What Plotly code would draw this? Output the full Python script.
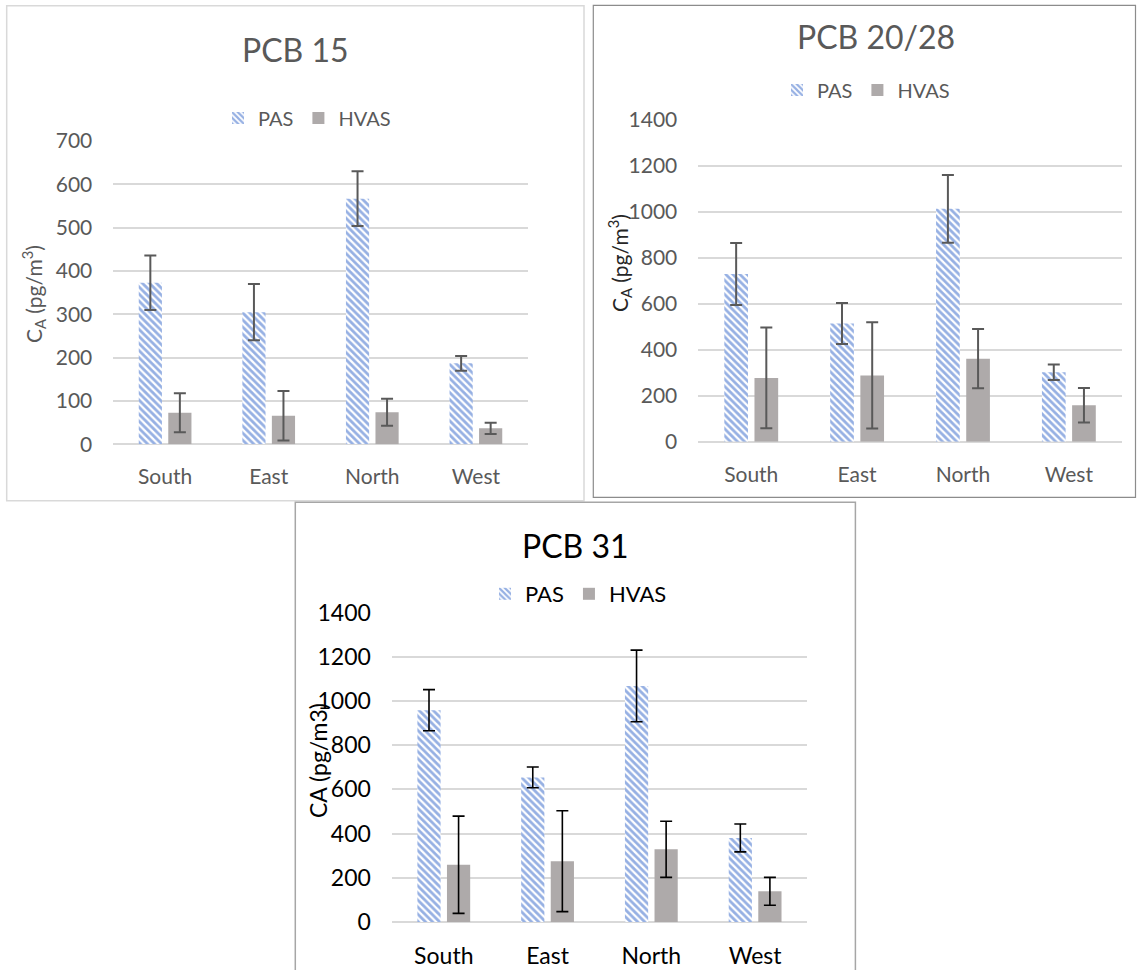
import plotly.graph_objects as go

W, H = 1137, 970

sites = ["South", "East", "North", "West"]

# PCB 15 (pg/m3)
pcb15_pas = [373, 305, 567, 187]
pcb15_pas_err = [63, 65, 63, 17]
pcb15_hvas = [73, 66, 74, 37]
pcb15_hvas_err = [45, 57, 31, 13]

# PCB 20/28 (pg/m3)
pcb2028_pas = [729, 514, 1012, 302]
pcb2028_pas_err = [135, 89, 147, 34]
pcb2028_hvas = [277, 288, 361, 158]
pcb2028_hvas_err = [219, 231, 129, 75]

# PCB 31 (pg/m3)
pcb31_pas = [958, 654, 1068, 380]
pcb31_pas_err = [93, 47, 162, 63]
pcb31_hvas = [259, 275, 329, 139]
pcb31_hvas_err = [220, 228, 127, 63]

ticks_15 = [0, 100, 200, 300, 400, 500, 600, 700]
ticks_1400 = [0, 200, 400, 600, 800, 1000, 1200, 1400]

FONT = "Lato"
BLUE = "#2E62C8"
GREY_BAR = "#AEAAAA"
GRID = "#D9D9D9"


def fx(px):
    return px / W


def fy(py):
    return 1 - py / H


panels = [
    dict(name="PCB 15", pas=pcb15_pas, pas_err=pcb15_pas_err,
         hvas=pcb15_hvas, hvas_err=pcb15_hvas_err, ticks=ticks_15,
         plot=(113.3, 527.7, 141.0, 444.3), text="#595959", err="#595959",
         title_col="#595959", err_w=2,
         fs=21, lfs=20, ytitle="C<sub>A</sub> (pg/m<sup>3</sup>)",
         ytitle_pos=(33, 294), ytitle_col="#595959",
         title_pos=(295.5, 49), legend_pos=(218, 118),
         border=(6.7, 584, 5.7, 500.7), border_col="#D9D9D9", border_w=1.5),
    dict(name="PCB 20/28", pas=pcb2028_pas, pas_err=pcb2028_pas_err,
         hvas=pcb2028_hvas, hvas_err=pcb2028_hvas_err, ticks=ticks_1400,
         plot=(698.3, 1121.8, 119.6, 441.7), text="#595959", err="#595959",
         title_col="#595959", err_w=2,
         fs=21, lfs=20, ytitle="C<sub>A</sub> (pg/m<sup>3</sup>)",
         ytitle_pos=(620, 263), ytitle_col="#262626",
         title_pos=(876, 37), legend_pos=(777, 90),
         border=(593.3, 1135.5, 5.3, 497.3), border_col="#8C8C8C", border_w=1.2),
    dict(name="PCB 31", pas=pcb31_pas, pas_err=pcb31_pas_err,
         hvas=pcb31_hvas, hvas_err=pcb31_hvas_err, ticks=ticks_1400,
         plot=(391.9, 807.0, 612.5, 922.0), text="#000000", err="#000000",
         title_col="#000000", err_w=1.6,
         fs=23, lfs=22, ytitle="CA (pg/m3)",
         ytitle_pos=(318, 761), ytitle_col="#000000",
         title_pos=(575, 545.7), legend_pos=(485, 594),
         border=(295.3, 855.4, 502.3, 990), border_col="#A6A6A6", border_w=1.5),
]

fig = go.Figure()
annotations = []
shapes = []
layout = {}

for i, p in enumerate(panels, start=1):
    sfx = "" if i == 1 else str(i)
    xa, ya = "x" + sfx, "y" + sfx
    leg = "legend" + sfx

    fig.add_trace(go.Bar(
        x=sites, y=p["pas"], name="PAS", xaxis=xa, yaxis=ya, legend=leg,
        marker=dict(color="white", line=dict(width=0),
                    pattern=dict(shape="\\", fgcolor=BLUE, bgcolor="white",
                                 size=5, solidity=0.55)),
        error_y=dict(type="data", array=p["pas_err"], visible=True,
                     color=p["err"], thickness=p["err_w"], width=6),
    ))
    fig.add_trace(go.Bar(
        x=sites, y=p["hvas"], name="HVAS", xaxis=xa, yaxis=ya, legend=leg,
        marker=dict(color=GREY_BAR, line=dict(width=0)),
        error_y=dict(type="data", array=p["hvas_err"], visible=True,
                     color=p["err"], thickness=p["err_w"], width=6),
    ))

    x0, x1, y0, y1 = p["plot"]
    layout["xaxis" + sfx] = dict(
        domain=[fx(x0), fx(x1)], anchor=ya, showgrid=False, showline=False,
        zeroline=False, ticks="", ticklabelstandoff=18,
        tickfont=dict(family=FONT, size=p["fs"], color=p["text"]),
    )
    layout["yaxis" + sfx] = dict(
        domain=[fy(y1), fy(y0)], anchor=xa, range=[0, p["ticks"][-1]],
        tickvals=p["ticks"], showgrid=True, gridcolor=GRID, gridwidth=1.5,
        zeroline=True, zerolinecolor=GRID, zerolinewidth=1.5, showline=False,
        ticks="", ticklabelstandoff=20,
        tickfont=dict(family=FONT, size=p["fs"], color=p["text"]),
    )
    lx, ly = p["legend_pos"]
    layout[leg] = dict(
        x=fx(lx), y=fy(ly), xanchor="left", yanchor="middle",
        orientation="h", bgcolor="rgba(0,0,0,0)", borderwidth=0,
        font=dict(family=FONT, size=p["lfs"], color=p["text"]),
        itemwidth=30, traceorder="normal",
    )

    tx, ty = p["title_pos"]
    annotations.append(dict(
        text=p["name"], x=fx(tx), y=fy(ty), xref="paper", yref="paper",
        xanchor="center", yanchor="middle", showarrow=False,
        font=dict(family=FONT, size=32, color=p["title_col"]),
    ))
    yx, yy = p["ytitle_pos"]
    annotations.append(dict(
        text=p["ytitle"], x=fx(yx), y=fy(yy), xref="paper", yref="paper",
        xanchor="center", yanchor="middle", showarrow=False, textangle=-90,
        font=dict(family=FONT, size=p["fs"], color=p["ytitle_col"]),
    ))
    bx0, bx1, by0, by1 = p["border"]
    shapes.append(dict(
        type="rect", xref="paper", yref="paper",
        x0=fx(bx0), x1=fx(bx1), y0=fy(by1), y1=fy(by0),
        line=dict(color=p["border_col"], width=p["border_w"]),
        fillcolor="rgba(0,0,0,0)", layer="below",
    ))

fig.update_layout(
    width=W, height=H, autosize=False,
    margin=dict(l=0, r=0, t=0, b=0, pad=0, autoexpand=False),
    paper_bgcolor="white", plot_bgcolor="white",
    barmode="group", bargap=0.43, bargroupgap=0.215,
    annotations=annotations, shapes=shapes,
    **layout,
)

fig.write_html("out.html")
